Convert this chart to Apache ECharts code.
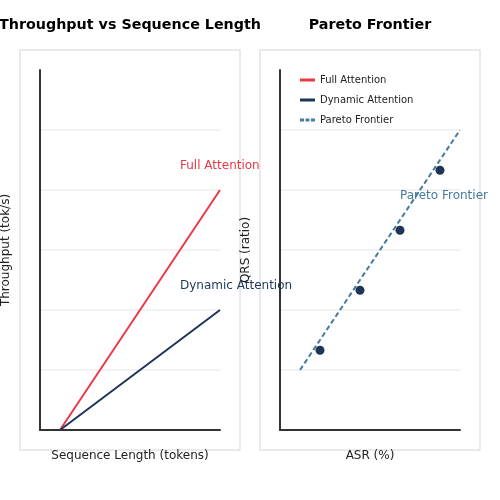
<!DOCTYPE html>
<html>
<head>
<meta charset="utf-8">
<script src="https://cdn.jsdelivr.net/npm/echarts@6/dist/echarts.min.js"></script>
<style>html,body{margin:0;padding:0;background:#fff;}#c{width:500px;height:500px;}</style>
</head>
<body>
<div id="c"></div>
<script>
// Left panel: throughput vs sequence length
const seqX = [1, 3, 5, 7, 9];
const fullAttn = [0, 1, 2, 3, 4];
const dynAttn = [0, 0.5, 1, 1.5, 2];
// Right panel: Pareto frontier
const asrX = [2, 4, 6, 8];
const qrsY = [1.33, 2.33, 3.33, 4.33];
const frontierX = [1, 9];
const frontierY = [1, 5];
// Text annotation anchors (data coordinates)
const fullLabelAt = [7, 4.4];
const dynLabelAt = [7, 2.4];
const paretoLabelAt = [6, 3.9];

const RED = '#e63946', NAVY = '#1d3557', BLUE = '#457b9d';
const FONT = 'DejaVu Sans';

const zip = (xs, ys) => xs.map((x, i) => [x, ys[i]]);

function xAx(idx, name) {
  return {
    type: 'value', gridIndex: idx, min: 0, max: 9,
    name: name, nameLocation: 'middle', nameGap: 20,
    nameTextStyle: { fontFamily: FONT, fontSize: 12, color: '#222' },
    axisLine: { show: true, lineStyle: { color: '#333', width: 2 } },
    axisTick: { show: false }, axisLabel: { show: false }, splitLine: { show: false }
  };
}
function yAx(idx, name) {
  return {
    type: 'value', gridIndex: idx, min: 0, max: 6, interval: 1,
    name: name, nameLocation: 'middle', nameGap: 28,
    nameTextStyle: { fontFamily: FONT, fontSize: 12, color: '#222' },
    axisLine: { show: true, lineStyle: { color: '#333', width: 2 } },
    axisTick: { show: false }, axisLabel: { show: false },
    splitLine: { show: true, showMinLine: false, showMaxLine: false, lineStyle: { color: '#eeeeee', width: 1.5 } }
  };
}
function annot(coord, text, color) {
  return {
    symbol: 'circle', symbolSize: 0, silent: true,
    data: [{ coord: coord }],
    label: { show: true, position: 'right', distance: 0, formatter: text, color: color, fontFamily: FONT, fontSize: 12 }
  };
}

const chart = echarts.init(document.getElementById('c'), null, { renderer: 'canvas' });
chart.setOption({
  animation: false,
  backgroundColor: '#fff',
  title: [
    { text: 'Throughput vs Sequence Length', left: 125, textAlign: 'center', top: 13,
      textStyle: { fontFamily: FONT, fontSize: 14.3, fontWeight: 'bold', color: '#000' } },
    { text: 'Pareto Frontier', left: 365, textAlign: 'center', top: 13,
      textStyle: { fontFamily: FONT, fontSize: 14.3, fontWeight: 'bold', color: '#000' } }
  ],
  graphic: [
    { type: 'rect', shape: { x: 20, y: 50, width: 220, height: 400 }, style: { fill: 'none', stroke: '#e3e3e3', lineWidth: 1.5 }, z: -1 },
    { type: 'rect', shape: { x: 260, y: 50, width: 220, height: 400 }, style: { fill: 'none', stroke: '#e3e3e3', lineWidth: 1.5 }, z: -1 }
  ],
  legend: {
    orient: 'vertical', left: 295, top: 69,
    itemWidth: 15, itemHeight: 3, itemGap: 8, symbolKeepAspect: false,
    textStyle: { fontFamily: FONT, fontSize: 10, color: '#222', lineHeight: 12 },
    data: [
      { name: 'Full Attention', icon: 'rect', itemStyle: { color: RED } },
      { name: 'Dynamic Attention', icon: 'rect', itemStyle: { color: NAVY } },
      { name: 'Pareto Frontier', icon: 'path://M0,0h4v1h-4zM5.5,0h4v1h-4zM11,0h4v1h-4z', itemStyle: { color: BLUE } }
    ]
  },
  grid: [
    { left: 40, top: 70, width: 180, height: 360, outerBoundsMode: 'none', containLabel: false },
    { left: 280, top: 70, width: 180, height: 360, outerBoundsMode: 'none', containLabel: false }
  ],
  xAxis: [xAx(0, 'Sequence Length (tokens)'), xAx(1, 'ASR (%)')],
  yAxis: [yAx(0, 'Throughput (tok/s)'), yAx(1, 'QRS (ratio)')],
  series: [
    { name: 'Full Attention', type: 'line', xAxisIndex: 0, yAxisIndex: 0, data: zip(seqX, fullAttn),
      symbol: 'none', lineStyle: { color: RED, width: 2 }, itemStyle: { color: RED },
      markPoint: annot(fullLabelAt, 'Full Attention', RED) },
    { name: 'Dynamic Attention', type: 'line', xAxisIndex: 0, yAxisIndex: 0, data: zip(seqX, dynAttn),
      symbol: 'none', lineStyle: { color: NAVY, width: 2 }, itemStyle: { color: NAVY },
      markPoint: annot(dynLabelAt, 'Dynamic Attention', NAVY) },
    { name: 'Pareto Frontier', type: 'line', xAxisIndex: 1, yAxisIndex: 1, data: zip(frontierX, frontierY),
      symbol: 'none', lineStyle: { color: BLUE, width: 2, type: [5, 3] }, itemStyle: { color: BLUE },
      markPoint: annot(paretoLabelAt, 'Pareto Frontier', BLUE) },
    { name: 'Models', type: 'scatter', xAxisIndex: 1, yAxisIndex: 1, data: zip(asrX, qrsY),
      symbol: 'circle', symbolSize: 9, itemStyle: { color: NAVY, opacity: 1 }, z: 3 }
  ]
});
</script>
</body>
</html>
